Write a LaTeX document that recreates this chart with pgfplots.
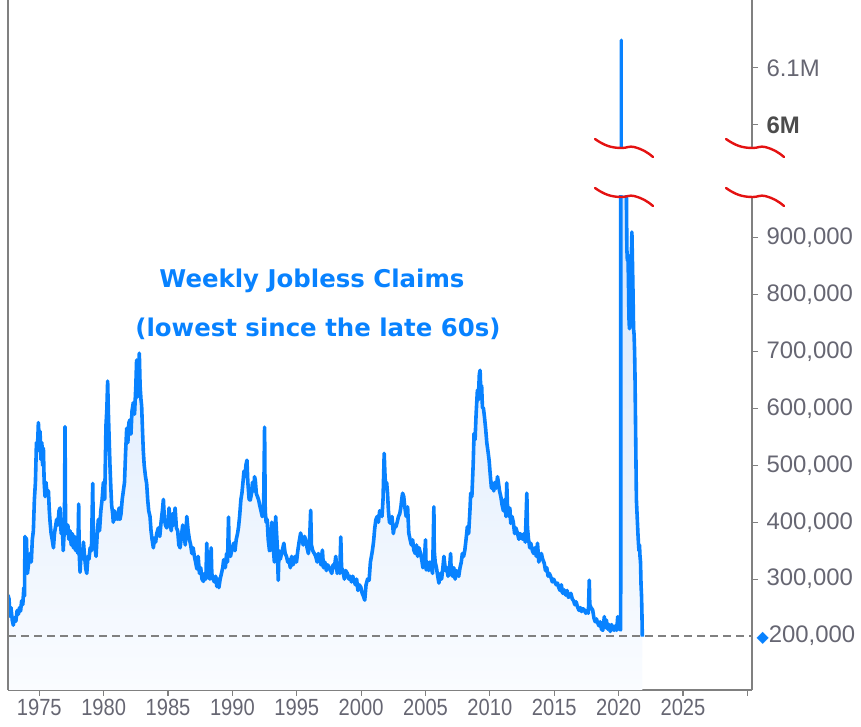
\documentclass[border=0pt]{standalone}
\usepackage{fontspec}
\setmainfont{Liberation Sans}
\newfontfamily\titlefont{DejaVu Sans}
\newfontfamily\symfont{DejaVu Sans}
\usepackage{pgfplots}
\pgfplotsset{compat=1.18}
\usepackage{pgfplotstable}
\definecolor{lineblue}{RGB}{8,130,255}
\definecolor{ticktext}{RGB}{102,102,114}
\definecolor{axisgray}{RGB}{128,128,128}
\definecolor{filltop}{RGB}{212,230,252}
\definecolor{fillbot}{RGB}{250,252,255}
\definecolor{squig}{RGB}{228,18,18}
\newcommand\xl[1]{\scalebox{0.86}[1]{#1}}
\newcommand\diamondlabel{\textcolor{lineblue}{\symfont\fontsize{16}{16}\selectfont ◆}200,000}

% weekly initial jobless claims, thousands
\pgfplotstableread{
year claims
1972.57 272
1972.65 265
1972.72 235
1972.80 250
1972.90 228
1972.98 219
1973.08 232
1973.18 226
1973.28 245
1973.37 238
1973.47 250
1973.55 244
1973.63 262
1973.72 255
1973.80 285
1973.85 270
1973.89 375
1973.92 330
1974.00 372
1974.08 310
1974.18 330
1974.28 345
1974.38 330
1974.46 370
1974.54 385
1974.62 440
1974.70 470
1974.78 540
1974.85 525
1974.93 575
1975.00 545
1975.06 560
1975.13 510
1975.20 540
1975.26 500
1975.32 530
1975.38 470
1975.45 445
1975.52 470
1975.60 450
1975.71 455
1975.78 420
1975.84 400
1975.92 380
1976.00 370
1976.10 355
1976.18 380
1976.28 395
1976.35 405
1976.45 395
1976.53 420
1976.61 425
1976.70 380
1976.78 400
1976.86 350
1976.95 390
1977.00 568
1977.04 400
1977.13 380
1977.22 395
1977.30 370
1977.39 385
1977.48 360
1977.56 380
1977.65 355
1977.74 375
1977.82 350
1977.92 365
1978.00 345
1978.06 432
1978.10 345
1978.17 312
1978.25 350
1978.33 335
1978.43 365
1978.52 340
1978.61 318
1978.69 310
1978.78 340
1978.86 335
1978.95 355
1979.05 350
1979.15 468
1979.20 380
1979.30 360
1979.41 340
1979.50 380
1979.59 405
1979.68 385
1979.78 420
1979.88 440
1979.98 470
1980.08 440
1980.18 570
1980.25 600
1980.31 648
1980.37 590
1980.43 545
1980.49 500
1980.56 460
1980.62 430
1980.70 415
1980.75 400
1980.85 420
1980.93 405
1981.00 410
1981.10 405
1981.20 425
1981.27 405
1981.35 415
1981.44 440
1981.53 455
1981.62 470
1981.70 520
1981.79 565
1981.88 540
1981.96 575
1982.05 580
1982.12 555
1982.20 595
1982.30 610
1982.40 590
1982.50 640
1982.56 685
1982.62 620
1982.70 660
1982.77 697
1982.83 640
1982.90 615
1982.95 605
1983.02 560
1983.08 525
1983.15 500
1983.25 480
1983.34 468
1983.42 440
1983.50 420
1983.60 410
1983.68 385
1983.76 370
1983.86 355
1983.95 372
1984.04 365
1984.12 380
1984.25 390
1984.36 375
1984.46 400
1984.56 420
1984.64 440
1984.72 405
1984.80 395
1984.90 390
1985.00 400
1985.08 425
1985.16 400
1985.25 385
1985.35 415
1985.45 395
1985.55 425
1985.65 390
1985.75 385
1985.84 360
1985.94 355
1986.04 375
1986.14 395
1986.24 380
1986.34 360
1986.46 410
1986.56 385
1986.66 370
1986.76 360
1986.85 345
1986.95 355
1987.05 340
1987.14 330
1987.24 318
1987.34 340
1987.44 310
1987.54 320
1987.64 300
1987.75 296
1987.85 310
1987.94 300
1988.01 363
1988.06 320
1988.15 310
1988.25 300
1988.35 355
1988.40 310
1988.50 300
1988.60 295
1988.70 305
1988.79 287
1988.88 300
1988.95 285
1989.05 300
1989.15 310
1989.25 320
1989.32 334
1989.45 320
1989.55 345
1989.62 330
1989.70 409
1989.75 345
1989.85 340
1989.95 350
1990.09 363
1990.20 350
1990.30 370
1990.40 380
1990.48 392
1990.56 410
1990.66 440
1990.74 451
1990.82 470
1990.90 490
1990.98 480
1991.05 500
1991.13 509
1991.20 470
1991.30 440
1991.39 439
1991.48 450
1991.56 470
1991.66 455
1991.72 480
1991.78 474
1991.86 450
1991.95 445
1992.04 439
1992.12 430
1992.22 420
1992.32 410
1992.42 415
1992.50 567
1992.55 420
1992.62 400
1992.70 405
1992.78 370
1992.88 350
1992.96 351
1993.06 400
1993.16 360
1993.26 330
1993.36 410
1993.48 360
1993.56 298
1993.62 350
1993.72 335
1993.82 345
1993.92 355
1994.00 363
1994.10 345
1994.20 340
1994.30 330
1994.39 334
1994.50 320
1994.60 340
1994.70 325
1994.78 329
1994.88 340
1994.98 330
1995.08 350
1995.18 365
1995.30 381
1995.40 370
1995.50 360
1995.60 375
1995.69 369
1995.80 355
1995.90 345
1996.00 370
1996.08 421
1996.14 360
1996.24 350
1996.36 345
1996.47 340
1996.58 330
1996.68 345
1996.78 335
1996.88 325
1996.99 351
1997.08 320
1997.18 330
1997.30 315
1997.40 325
1997.51 321
1997.62 315
1997.72 310
1997.82 325
1997.92 320
1998.03 340
1998.14 310
1998.24 325
1998.34 310
1998.42 374
1998.48 320
1998.58 315
1998.70 300
1998.80 315
1998.93 310
1999.05 300
1999.15 305
1999.25 295
1999.35 305
1999.45 298
1999.55 290
1999.65 300
1999.75 280
1999.85 290
1999.97 286
2000.08 275
2000.18 270
2000.28 263
2000.38 290
2000.50 300
2000.62 298
2000.72 330
2000.80 340
2000.88 351
2000.96 365
2001.06 390
2001.14 404
2001.24 410
2001.34 400
2001.44 420
2001.53 416
2001.62 410
2001.70 440
2001.79 521
2001.84 490
2001.90 460
2001.98 470
2002.05 451
2002.12 420
2002.20 400
2002.31 398
2002.40 410
2002.50 380
2002.60 395
2002.70 392
2002.80 400
2002.90 410
2003.00 415
2003.09 427
2003.15 440
2003.22 451
2003.31 445
2003.40 425
2003.50 410
2003.61 427
2003.70 381
2003.80 370
2003.90 360
2004.00 369
2004.09 351
2004.20 345
2004.30 360
2004.39 340
2004.50 355
2004.61 345
2004.70 335
2004.80 320
2004.90 330
2005.00 369
2005.05 316
2005.15 330
2005.25 315
2005.35 330
2005.45 320
2005.55 310
2005.65 427
2005.68 350
2005.75 330
2005.85 320
2005.95 305
2006.04 293
2006.15 310
2006.25 300
2006.35 320
2006.43 340
2006.55 315
2006.65 320
2006.75 305
2006.85 315
2006.95 345
2007.00 310
2007.10 305
2007.20 320
2007.30 300
2007.40 315
2007.47 310
2007.58 305
2007.68 320
2007.78 330
2007.86 345
2007.96 340
2008.05 350
2008.15 370
2008.25 392
2008.35 380
2008.45 420
2008.51 451
2008.60 445
2008.70 500
2008.77 556
2008.85 545
2008.93 590
2009.03 632
2009.10 615
2009.18 660
2009.24 667
2009.30 625
2009.36 640
2009.42 602
2009.50 600
2009.58 585
2009.68 562
2009.76 540
2009.85 525
2009.94 509
2010.04 480
2010.12 460
2010.20 469
2010.30 455
2010.40 470
2010.50 460
2010.59 480
2010.66 470
2010.75 455
2010.85 445
2010.95 430
2011.05 420
2011.15 440
2011.25 410
2011.31 469
2011.38 420
2011.48 410
2011.55 425
2011.62 398
2011.72 410
2011.82 400
2011.92 380
2012.02 390
2012.14 381
2012.25 370
2012.35 380
2012.45 375
2012.55 370
2012.65 380
2012.75 365
2012.87 451
2012.92 390
2013.00 370
2013.10 355
2013.18 363
2013.30 350
2013.40 345
2013.50 355
2013.60 340
2013.70 363
2013.80 330
2013.90 340
2014.00 345
2014.10 335
2014.22 328
2014.32 315
2014.42 320
2014.52 305
2014.62 310
2014.73 304
2014.85 295
2014.95 300
2015.05 295
2015.15 290
2015.25 293
2015.35 285
2015.45 280
2015.55 290
2015.65 275
2015.77 281
2015.88 272
2016.00 280
2016.10 268
2016.20 270
2016.29 275
2016.40 265
2016.50 262
2016.60 255
2016.70 260
2016.81 251
2016.92 245
2017.02 250
2017.12 243
2017.22 248
2017.33 246
2017.45 240
2017.55 245
2017.65 240
2017.72 298
2017.76 255
2017.85 250
2017.98 246
2018.08 232
2018.18 225
2018.28 230
2018.37 223
2018.47 218
2018.57 225
2018.67 212
2018.77 210
2018.89 234
2018.95 215
2019.05 228
2019.15 212
2019.25 220
2019.35 208
2019.45 220
2019.55 215
2019.65 210
2019.75 218
2019.85 210
2019.93 234
2020.00 215
2020.08 212
2020.16 211
2020.19 3300
2020.21 6149
2020.23 4970
2020.25 4400
2020.27 3800
2020.29 3200
2020.31 2700
2020.33 2400
2020.35 2100
2020.37 1900
2020.39 1600
2020.41 1500
2020.44 1400
2020.48 1300
2020.52 1200
2020.56 1100
2020.60 990
2020.64 880
2020.68 860
2020.72 870
2020.76 830
2020.80 760
2020.84 740
2020.88 750
2020.92 790
2020.96 850
2021.00 880
2021.03 910
2021.08 850
2021.12 800
2021.16 740
2021.20 730
2021.24 700
2021.27 660
2021.32 560
2021.38 440
2021.42 420
2021.46 400
2021.50 380
2021.54 363
2021.58 350
2021.62 360
2021.66 340
2021.70 330
2021.74 290
2021.78 270
2021.81 240
2021.84 199
}\claims

\begin{document}
\begin{tikzpicture}
\path[use as bounding box] (-8bp,-37bp) rectangle (853bp,690bp);
\pgfplotsset{
  commonaxis/.style={
    scale only axis, width=744bp,
    xmin=1972.57, xmax=2030.36,
    axis line style={axisgray, line width=1.3bp},
    tick style={axisgray, line width=1.1bp},
    tick align=outside, major tick length=6bp,
    yticklabel style={font=\fontsize{24}{26}\selectfont, text=ticktext, xshift=5bp},
    xticklabel style={font=\fontsize{23.5}{25}\selectfont, text=ticktext},
  }
}
% lower part of the broken axis
\begin{axis}[commonaxis, name=lower, at={(0bp,0bp)}, anchor=south west,
  height=494bp, ymin=105.1, ymax=973.3,
  axis x line*=bottom, axis y line*=right,
  xtick={1975,1980,...,2030},
  xticklabels={\xl{1975},\xl{1980},\xl{1985},\xl{1990},\xl{1995},\xl{2000},\xl{2005},\xl{2010},\xl{2015},\xl{2020},\xl{2025},{}},
  ytick={300,400,500,600,700,800,900},
  yticklabels={{300,000},{400,000},{500,000},{600,000},{700,000},{800,000},{900,000}},
  extra y ticks={200},
  extra y tick labels={\diamondlabel},
  extra y tick style={major tick length=0bp, yticklabel style={xshift=-4bp}},
]
\addplot[draw=none, top color=filltop, bottom color=fillbot, restrict y to domain*=0:980]
  table[x=year, y=claims]{\claims} \closedcycle;
\addplot[axisgray, line width=1.2bp, dash pattern=on 8bp off 5bp]
  coordinates {(1972.57,200) (2030.36,200)};
\addplot[lineblue, line width=3.6bp, line join=round]
  table[x=year, y=claims]{\claims};
\end{axis}
% upper part of the broken axis
\begin{axis}[commonaxis, name=upper, at={(0bp,543bp)}, anchor=south west,
  height=147bp, ymin=5961.4, ymax=6219.3,
  hide x axis, axis y line*=right,
  ytick={6000,6100},
  yticklabels={{\textcolor{black!70}{\bfseries 6M}},{6.1M}},
]
\addplot[lineblue, line width=3.2bp, line join=round]
  table[x=year, y=claims]{\claims};
\end{axis}
% left border
\draw[axisgray, line width=1.3bp] (0bp,0bp) -- (0bp,690bp);
% break marks
\foreach \cx/\cy in {614/543, 745/543, 614/494, 745/494}{
  \draw[squig, line width=2.4bp, line cap=round]
    ([shift={(-27bp,8bp)}]\cx bp,\cy bp)
    to[out=-35,in=180] ([shift={(0bp,-1bp)}]\cx bp,\cy bp)
    to[out=0,in=165] ([shift={(12bp,0bp)}]\cx bp,\cy bp)
    to[out=-15,in=140] ([shift={(31bp,-10bp)}]\cx bp,\cy bp);
}
% annotation
\node[font=\titlefont\bfseries\fontsize{24.5}{28}\selectfont, text=lineblue, anchor=base]
  at (304bp,402bp) {Weekly Jobless Claims};
\node[font=\titlefont\bfseries\fontsize{24.5}{28}\selectfont, text=lineblue, anchor=base]
  at (310bp,353bp) {(lowest since the late 60s)};
\end{tikzpicture}
\end{document}
